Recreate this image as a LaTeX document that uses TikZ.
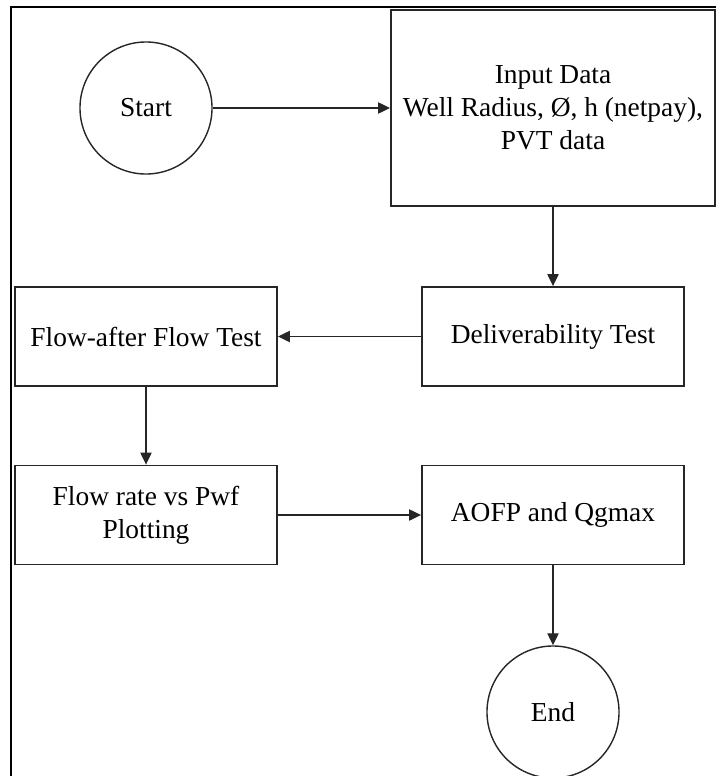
\documentclass[tikz,border=0pt]{standalone}
\usepackage{fontspec}
\setmainfont{Liberation Serif}
\usepackage{tikz}
\usetikzlibrary{arrows.meta}

\tikzset{
    block/.style={draw=black!85, line width=1.3pt, rectangle, align=center, inner sep=0pt,
        minimum width=6.55cm, minimum height=2.475cm},
    terminal/.style={draw=black!85, line width=1pt, circle, inner sep=0pt, minimum size=3.3cm},
    link/.style={->, draw=black!85, line width=0.9pt}
}

\begin{document}
\begin{tikzpicture}[x=0.025cm, y=-0.025cm, >={Triangle[length=8.5pt,width=8pt]},
    font=\fontsize{19.5}{23.5}\selectfont] %坐标以像素为单位
    \useasboundingbox (0,0) rectangle (716,776);
    \clip (0,0) rectangle (716,776);
    \draw[line width=1.6pt] (11,7) rectangle (718,790); %外框

    \node[terminal] (start) at (146,108) {Start};
    \node[block, minimum width=8.1cm, minimum height=4.9cm] (input) at (553,108)
        {Input Data\\Well Radius, Ø, h (netpay),\\PVT data};
    \node[block] (deliv) at (553,336.5) {Deliverability Test};
    \node[block] (faf) at (146,336.5) {Flow-after Flow Test};
    \node[block] (plot) at (146,515) {Flow rate vs Pwf\\Plotting};
    \node[block] (aofp) at (553,515) {AOFP and Qgmax};
    \node[terminal] (end) at (553,712) {End};

    \draw[link] (start) -- (input); %开始 -> 输入数据
    \draw[link] (input) -- (deliv);
    \draw[link] (deliv) -- (faf);
    \draw[link] (faf) -- (plot);
    \draw[link] (plot) -- (aofp);
    \draw[link] (aofp) -- (end); %结束
\end{tikzpicture}
\end{document}
